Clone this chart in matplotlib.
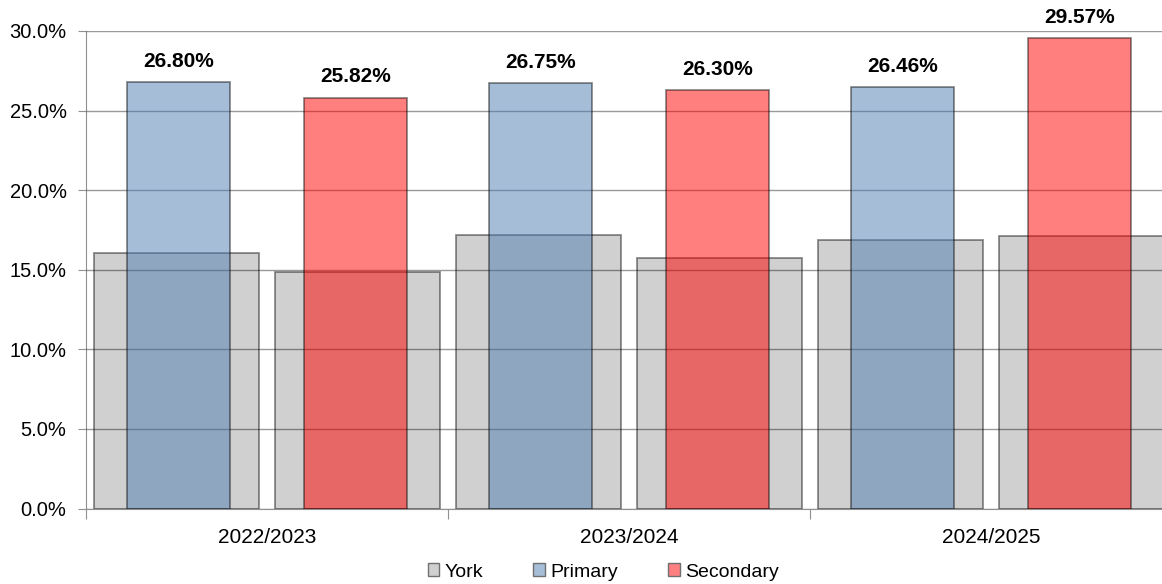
import matplotlib
matplotlib.use("Agg")
import matplotlib.pyplot as plt
from matplotlib.patches import Patch
from matplotlib.ticker import FuncFormatter

plt.rcParams['font.family'] = ['Liberation Sans', 'DejaVu Sans']

years = ["2022/2023", "2023/2024", "2024/2025"]
york = [16.07, 14.88, 17.16, 15.75, 16.88, 17.10]   # slot order: primary-slot, secondary-slot per year
primary = [26.80, 26.75, 26.46]
secondary = [25.82, 26.30, 29.57]
yticks = [0, 5, 10, 15, 20, 25, 30]

fig = plt.figure(figsize=(11.62, 5.84), dpi=100)
ax = fig.add_axes([86/1162, 75.5/584, 1086/1162, 477.5/584])

york_w = 0.456
col_w = 0.285
edge = (0, 0, 0, 0.45)

york_x = []
for g in range(len(years)):
    york_x += [g + 0.25, g + 0.75]
prim_x = [g + 0.255 for g in range(len(years))]
sec_x = [g + 0.745 for g in range(len(years))]

ax.bar(york_x, york, width=york_w, color='#d0d0d0', edgecolor=edge, linewidth=1.3, zorder=2)
ax.bar(prim_x, primary, width=col_w, color=(77/255, 125/255, 177/255, 0.5),
       edgecolor=edge, linewidth=1.3, zorder=3)
ax.bar(sec_x, secondary, width=col_w, color=(1, 0, 0, 0.5),
       edgecolor=edge, linewidth=1.3, zorder=3)

for x, v in list(zip(prim_x, primary)) + list(zip(sec_x, secondary)):
    ax.annotate(f"{v:.2f}%", (x, v), xytext=(0, 8), textcoords='offset points',
                ha='center', va='bottom', fontsize=15, fontweight='bold', zorder=5,
                annotation_clip=False)

ax.set_ylim(0, 30)
ax.set_xlim(0, 3)
ax.set_yticks(yticks)
ax.yaxis.set_major_formatter(FuncFormatter(lambda v, p: f"{v:.1f}%"))
ax.grid(axis='y', color='black', alpha=0.4, linewidth=1.0, zorder=4)
ax.set_axisbelow(False)
for gl in ax.get_ygridlines():
    gl.set_zorder(4)

ax.set_xticks([0, 1, 2, 3])
ax.set_xticklabels([])
ax.set_xticks([g + 0.5 for g in range(len(years))], minor=True)
ax.set_xticklabels(years, minor=True, fontsize=15)
ax.tick_params(axis='x', which='minor', length=0, pad=14)
ax.tick_params(axis='x', which='major', length=7, color='#909090', direction='out')
ax.tick_params(axis='y', length=6, color='#909090', labelsize=14.5, pad=8)

for s in ['top', 'right']:
    ax.spines[s].set_visible(False)
ax.spines['left'].set_color('#909090')
ax.spines['bottom'].set_color('#909090')

handles = [Patch(facecolor='#d0d0d0', edgecolor='#707070', label='York'),
           Patch(facecolor=(166/255, 190/255, 216/255), edgecolor='#707070', label='Primary'),
           Patch(facecolor=(1, 128/255, 128/255), edgecolor='#707070', label='Secondary')]
fig.legend(handles=handles, loc='lower center', bbox_to_anchor=(0.519, -0.024), ncol=3,
           frameon=False, fontsize=14, handlelength=0.6, handleheight=0.6,
           handletextpad=0.25, columnspacing=2.6)

fig.savefig("out.png", dpi=100)
